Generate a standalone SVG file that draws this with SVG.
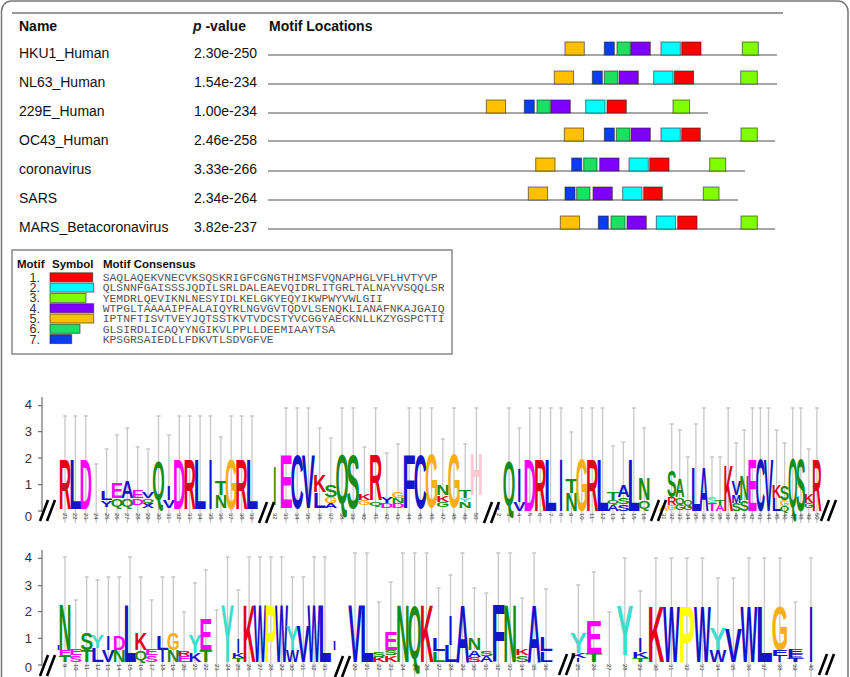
<svg xmlns="http://www.w3.org/2000/svg" width="850" height="677" viewBox="0 0 850 677">
<style>
.t{font-family:"Liberation Sans",Arial,sans-serif;font-size:14px;fill:#111}
.hb{font-weight:bold}
.lg{font-family:"Liberation Sans",Arial,sans-serif;font-size:11.5px;font-weight:bold;fill:#111}
.num{font-family:"Liberation Sans",Arial,sans-serif;font-size:12.5px;fill:#333;text-anchor:end}
.mono{font-family:"Liberation Mono","Courier New",monospace;font-size:11.4px;fill:#555}
.ax{font-family:"Liberation Sans",Arial,sans-serif;font-size:13px;fill:#333;text-anchor:end}
.k text{font-family:"Liberation Sans",Arial,sans-serif;font-size:10px;font-weight:bold}
.cl text{font-family:"Liberation Sans",Arial,sans-serif;font-size:6px;fill:#333}
.r{fill:#e2001a}.b{fill:#1414c8}.m{fill:#ff00ff}.g{fill:#168c16}.o{fill:#f9ae14}.c{fill:#3fdccc}.y{fill:#ffff00}.p{fill:#fcc8d2}
.eb{stroke:#c8c8c8;stroke-width:1.3;fill:none}
.trk{stroke:#888;stroke-width:1.5}
.bx{stroke:#222;stroke-opacity:.6;stroke-width:1}
.c1{fill:#ff0000}.c2{fill:#00ffff}.c3{fill:#80ff00}.c4{fill:#8000ff}.c5{fill:#ffc000}.c6{fill:#1ee060}.c7{fill:#0a3cf0}
.axl{stroke:#555;stroke-width:1;fill:none}
</style>
<defs>
<g id="brk"><path d="M0 21L8 0M7 21L15 0" stroke="#000" stroke-width="2.6" fill="none"/></g>
</defs>
<rect x="1.5" y="1" width="846.5" height="700" rx="10" fill="#fff" stroke="#777" stroke-width="1.5"/>
<line x1="12" y1="13" x2="783" y2="13" stroke="#999" stroke-width="2"/>

<g id="table-header">
<text class="t hb" x="19" y="31">Name</text>
<text class="t hb" x="193" y="31"><tspan font-style="italic">p</tspan> -value</text>
<text class="t hb" x="269" y="31">Motif Locations</text>
</g>

<g id="row-hku1">
<text class="t" x="19" y="58">HKU1_Human</text><text class="t" x="194" y="58">2.30e-250</text>
<line class="trk" x1="268" y1="55" x2="777" y2="55"/>
<rect class="bx c5" x="565" y="42" width="19.3" height="13"/><rect class="bx c7" x="604.3" y="42" width="10" height="13"/><rect class="bx c6" x="617" y="42" width="13.3" height="13"/><rect class="bx c4" x="631" y="42" width="19.3" height="13"/><rect class="bx c2" x="661" y="42" width="19.3" height="13"/><rect class="bx c1" x="681.7" y="42" width="19.3" height="13"/><rect class="bx c3" x="742.3" y="42" width="16" height="13"/>
</g>
<g id="row-nl63">
<text class="t" x="19" y="87">NL63_Human</text><text class="t" x="194" y="87">1.54e-234</text>
<line class="trk" x1="268" y1="84" x2="777" y2="84"/>
<rect class="bx c5" x="554.3" y="71" width="19.3" height="13"/><rect class="bx c7" x="592.3" y="71" width="10" height="13"/><rect class="bx c6" x="604.3" y="71" width="13.3" height="13"/><rect class="bx c4" x="619" y="71" width="19.3" height="13"/><rect class="bx c2" x="653.7" y="71" width="19.3" height="13"/><rect class="bx c1" x="674.3" y="71" width="19.3" height="13"/><rect class="bx c3" x="740.7" y="71" width="16.6" height="13"/>
</g>
<g id="row-229e">
<text class="t" x="19" y="116">229E_Human</text><text class="t" x="194" y="116">1.00e-234</text>
<line class="trk" x1="268" y1="113" x2="708" y2="113"/>
<rect class="bx c5" x="486.3" y="100" width="19.3" height="13"/><rect class="bx c7" x="524.3" y="100" width="10" height="13"/><rect class="bx c6" x="537" y="100" width="13.3" height="13"/><rect class="bx c4" x="551" y="100" width="19.3" height="13"/><rect class="bx c2" x="585.7" y="100" width="19.3" height="13"/><rect class="bx c1" x="607" y="100" width="19.3" height="13"/><rect class="bx c3" x="673" y="100" width="16.6" height="13"/>
</g>
<g id="row-oc43">
<text class="t" x="19" y="145">OC43_Human</text><text class="t" x="194" y="145">2.46e-258</text>
<line class="trk" x1="268" y1="141" x2="775" y2="141"/>
<rect class="bx c5" x="564.3" y="128" width="19.3" height="13"/><rect class="bx c7" x="604.3" y="128" width="10" height="13"/><rect class="bx c6" x="616.3" y="128" width="13.3" height="13"/><rect class="bx c4" x="631" y="128" width="19.3" height="13"/><rect class="bx c2" x="661" y="128" width="19.3" height="13"/><rect class="bx c1" x="681.7" y="128" width="18.6" height="13"/><rect class="bx c3" x="741" y="128" width="16.3" height="13"/>
</g>
<g id="row-coronavirus">
<text class="t" x="19" y="174">coronavirus</text><text class="t" x="194" y="174">3.33e-266</text>
<line class="trk" x1="268" y1="171" x2="745" y2="171"/>
<rect class="bx c5" x="535.7" y="158" width="19.3" height="13"/><rect class="bx c7" x="571.7" y="158" width="10" height="13"/><rect class="bx c6" x="583.7" y="158" width="13.3" height="13"/><rect class="bx c4" x="599.7" y="158" width="19.3" height="13"/><rect class="bx c2" x="629" y="158" width="19.3" height="13"/><rect class="bx c1" x="649.7" y="158" width="19.3" height="13"/><rect class="bx c3" x="709.7" y="158" width="16" height="13"/>
</g>
<g id="row-sars">
<text class="t" x="19" y="203">SARS</text><text class="t" x="194" y="203">2.34e-264</text>
<line class="trk" x1="268" y1="200" x2="738" y2="200"/>
<rect class="bx c5" x="528.3" y="187" width="19.3" height="13"/><rect class="bx c7" x="565" y="187" width="10" height="13"/><rect class="bx c6" x="576.7" y="187" width="13.3" height="13"/><rect class="bx c4" x="593" y="187" width="19.3" height="13"/><rect class="bx c2" x="622.7" y="187" width="19.3" height="13"/><rect class="bx c1" x="643.7" y="187" width="18.6" height="13"/><rect class="bx c3" x="703.3" y="187" width="15.7" height="13"/>
</g>
<g id="row-mars">
<text class="t" x="19" y="232">MARS_Betacoronavirus</text><text class="t" x="194" y="232">3.82e-237</text>
<line class="trk" x1="268" y1="229" x2="775" y2="229"/>
<rect class="bx c5" x="560.3" y="216" width="19.3" height="13"/><rect class="bx c7" x="598.3" y="216" width="10" height="13"/><rect class="bx c6" x="611" y="216" width="14" height="13"/><rect class="bx c4" x="627" y="216" width="19.3" height="13"/><rect class="bx c2" x="656.3" y="216" width="19.3" height="13"/><rect class="bx c1" x="677.7" y="216" width="19.3" height="13"/><rect class="bx c3" x="741" y="216" width="16.3" height="13"/>
</g>

<g id="legend">
<rect x="12" y="250" width="440" height="104" fill="#fff" stroke="#888" stroke-width="1.5"/>
<text class="lg" x="17" y="267.5">Motif</text><text class="lg" x="52" y="267.5">Symbol</text><text class="lg" x="103" y="267.5">Motif Consensus</text>
<text class="num" x="40" y="281.8">1.</text><text class="num" x="40" y="292.1">2.</text><text class="num" x="40" y="302.4">3.</text><text class="num" x="40" y="312.7">4.</text><text class="num" x="40" y="323">5.</text><text class="num" x="40" y="333.3">6.</text><text class="num" x="40" y="343.6">7.</text>
<rect class="bx c1" x="50" y="272.8" width="42.7" height="9"/>
<rect class="bx c2" x="50" y="283.1" width="43.7" height="9"/>
<rect class="bx c3" x="50" y="293.4" width="36" height="9"/>
<rect class="bx c4" x="50" y="303.7" width="43.7" height="9"/>
<rect class="bx c5" x="50" y="314" width="43.7" height="9"/>
<rect class="bx c6" x="50" y="324.3" width="30" height="9"/>
<rect class="bx c7" x="50" y="334.6" width="21.7" height="9"/>
<text class="mono" x="102.7" y="281">SAQLAQEKVNECVKSQSKRIGFCGNGTHIMSFVQNAPHGLVFLHVTYVP</text>
<text class="mono" x="102.7" y="291.3">QLSNNFGAISSSJQDILSRLDALEAEVQIDRLITGRLTALNAYVSQQLSR</text>
<text class="mono" x="102.7" y="301.6">YEMDRLQEVIKNLNESYIDLKELGKYEQYIKWPWYVWLGII</text>
<text class="mono" x="102.7" y="311.9">WTPGLTAAAAIPFALAIQYRLNGVGVTQDVLSENQKLIANAFNKAJGAIQ</text>
<text class="mono" x="102.7" y="322.2">IPTNFTISVTVEYJQTSSTKVTVDCSTYVCGGYAECKNLLKZYGSPCTTI</text>
<text class="mono" x="102.7" y="332.5">GLSIRDLICAQYYNGIKVLPPLLDEEMIAAYTSA</text>
<text class="mono" x="102.7" y="342.8">KPSGRSAIEDLLFDKVTLSDVGFVE</text>
</g>

<g id="axis-a">
<path class="axl" d="M42 397V512M38 405.7h4M38 431.7h4M38 458h4M38 484.7h4M38 511h4"/>
<text class="ax" x="32" y="409">4</text><text class="ax" x="32" y="436">3</text><text class="ax" x="32" y="462.5">2</text><text class="ax" x="32" y="489">1</text><text class="ax" x="32" y="521">0</text>
</g>
<g id="axis-b">
<path class="axl" d="M42 550V666M38 558.3h4M38 585.7h4M38 611.7h4M38 638.3h4M38 665h4"/>
<text class="ax" x="32" y="562">4</text><text class="ax" x="32" y="590">3</text><text class="ax" x="32" y="616">2</text><text class="ax" x="32" y="643">1</text><text class="ax" x="32" y="672">0</text>
</g>

<g id="errorbars">
<path class="eb" d="M65 416V523M75.4 416V523M85.8 416V523M96.2 464V523M106.6 449V523M117 435V523M127.3 428V523M137.7 447V523M148.1 449V523M158.5 416V523M168.9 435V523M179.3 416V523M189.7 416V523M200.1 416V523M210.5 416V523M220.9 437V523M231.2 416V523M241.6 416V523M252 416V523
M63 416h4M73.4 416h4M83.8 416h4M94.2 464h4M104.6 449h4M115 435h4M125.3 428h4M135.7 447h4M146.1 449h4M156.5 416h4M166.9 435h4M177.3 416h4M187.7 416h4M198.1 416h4M208.5 416h4M218.9 437h4M229.2 416h4M239.6 416h4M250 416h4"/>
<path class="eb" d="M286 408V523M297.2 408V523M308.4 408V523M319.6 428V523M330.8 438V523M342 408V523M353.2 408V523M364.4 447V523M375.6 408V523M386.8 453V523M398 444V523M409.2 408V523M420.4 408V523M431.6 408V523M442.8 439V523M454 408V523M465.2 444V523M476.4 408V523
M284 408h4M295.2 408h4M306.4 408h4M317.6 428h4M328.8 438h4M340 408h4M351.2 408h4M362.4 447h4M373.6 408h4M384.8 453h4M396 444h4M407.2 408h4M418.4 408h4M429.6 408h4M440.8 439h4M452 408h4M463.2 444h4M474.4 408h4"/>
<path class="eb" d="M509 408V523M519.4 428V523M529.8 408V523M540.2 408V523M550.6 408V523M561 408V523M571.4 432V523M581.8 408V523M592.2 408V523M602.6 408V523M613 446V523M623.4 442V523M633.8 408V523M644.2 428V523
M507 408h4M517.4 428h4M527.8 408h4M538.2 408h4M548.6 408h4M559 408h4M569.4 432h4M579.8 408h4M590.2 408h4M600.6 408h4M611 446h4M621.4 442h4M631.8 408h4M642.2 428h4"/>
<path class="eb" d="M671.7 424V523M679.7 430V523M687.8 457V523M695.9 424V523M703.9 408V523M712 457V523M720.1 457V523M728.2 408V523M736.2 443V523M744.3 430V523M752.4 408V523M760.4 408V523M768.5 408V523M776.6 430V523M784.6 443V523M792.7 408V523M800.8 408V523M808.8 449V523M816.9 408V523
M669.7 424h4M677.7 430h4M685.8 457h4M693.9 424h4M701.9 408h4M710 457h4M718.1 457h4M726.2 408h4M734.2 443h4M742.3 430h4M750.4 408h4M758.4 408h4M766.5 408h4M774.6 430h4M782.6 443h4M790.7 408h4M798.8 408h4M806.8 449h4M814.9 408h4"/>
<path class="eb" d="M65 557V677M75.8 600V677M86.7 577V677M97.5 580V677M108.3 577V677M119.2 577V677M130 557V677M140.8 577V677M151.6 600V677M162.5 577V677M173.3 577V677M184.1 612V677M195 583V677M205.8 570V677M216.6 610V677M227.5 557V677M238.3 590V677M249.1 557V677M260 557V677M270.8 557V677M281.6 557V677M292.4 577V677M303.3 577V677M314.1 557V677M324.9 557V677
M63 557h4M73.8 600h4M84.7 577h4M95.5 580h4M106.3 577h4M117.2 577h4M128 557h4M138.8 577h4M149.6 600h4M160.5 577h4M171.3 577h4M182.1 612h4M193 583h4M203.8 570h4M214.6 610h4M225.5 557h4M236.3 590h4M247.1 557h4M258 557h4M268.8 557h4M279.6 557h4M290.4 577h4M301.3 577h4M312.1 557h4M322.9 557h4"/>
<path class="eb" d="M355 553V677M366.9 553V677M378.9 602V677M390.8 582V677M402.8 553V677M414.7 553V677M426.6 553V677M438.6 588V677M450.5 575V677M462.5 553V677M474.4 588V677M486.3 593V677M498.3 553V677M510.2 553V677M522.2 598V677M534.1 553V677M546 589V677
M353 553h4M364.9 553h4M376.9 602h4M388.8 582h4M400.8 553h4M412.7 553h4M424.6 553h4M436.6 588h4M448.5 575h4M460.5 553h4M472.4 588h4M484.3 593h4M496.3 553h4M508.2 553h4M520.2 598h4M532.1 553h4M544 589h4"/>
<path class="eb" d="M578.3 585V677M593.8 572V677M609.3 612V677M624.8 558V677M640.3 591V677M655.9 558V677M671.4 558V677M686.9 558V677M702.4 558V677M717.9 578V677M733.4 578V677M748.9 558V677M764.4 558V677M779.9 558V677M795.4 602V677M811 558V677
M576.3 585h4M591.8 572h4M607.3 612h4M622.8 558h4M638.3 591h4M653.9 558h4M669.4 558h4M684.9 558h4M700.4 558h4M715.9 578h4M731.4 578h4M746.9 558h4M762.4 558h4M777.9 558h4M793.4 602h4M809 558h4"/>
</g>

<g id="logo-a1" class="k" transform="translate(-1.04 0)">
<text class="r" transform="translate(59.8 509)scale(1 6.98)" textLength="12.5" lengthAdjust="spacingAndGlyphs">R</text>
<text class="b" transform="translate(70.2 509)scale(1 6.98)" textLength="12.5" lengthAdjust="spacingAndGlyphs">L</text>
<text class="m" transform="translate(80.6 509)scale(1 6.98)" textLength="12.5" lengthAdjust="spacingAndGlyphs">D</text>
<text class="b" transform="translate(101.4 500)scale(1 1.26)" textLength="12.5" lengthAdjust="spacingAndGlyphs">L</text>
<text class="b" transform="translate(101.4 507)scale(1 0.98)" textLength="12.5" lengthAdjust="spacingAndGlyphs">Y</text>
<text class="m" transform="translate(111.8 498)scale(1 2.23)" textLength="12.5" lengthAdjust="spacingAndGlyphs">E</text>
<text class="g" transform="translate(111.8 507)scale(1 1.1)" textLength="12.5" lengthAdjust="spacingAndGlyphs">Q</text>
<text class="b" transform="translate(122.1 498)scale(1 2.37)" textLength="12.5" lengthAdjust="spacingAndGlyphs">A</text>
<text class="g" transform="translate(122.1 507)scale(1 1.1)" textLength="12.5" lengthAdjust="spacingAndGlyphs">Q</text>
<text class="m" transform="translate(132.5 498)scale(1 1.12)" textLength="12.5" lengthAdjust="spacingAndGlyphs">E</text>
<text class="m" transform="translate(132.5 505)scale(1 0.98)" textLength="12.5" lengthAdjust="spacingAndGlyphs">D</text>
<text class="b" transform="translate(142.9 498)scale(1 0.98)" textLength="12.5" lengthAdjust="spacingAndGlyphs">V</text>
<text class="g" transform="translate(142.9 503)scale(1 0.6)" textLength="12.5" lengthAdjust="spacingAndGlyphs">Q</text>
<text class="b" transform="translate(142.9 508)scale(1 0.7)" textLength="12.5" lengthAdjust="spacingAndGlyphs">X</text>
<text class="g" transform="translate(153.3 500)scale(1 5.5)" textLength="12.5" lengthAdjust="spacingAndGlyphs">Q</text>
<text class="b" transform="translate(167.9 500)scale(1 2.1)" textLength="4" lengthAdjust="spacingAndGlyphs">I</text>
<text class="b" transform="translate(163.7 508)scale(1 1.12)" textLength="12.5" lengthAdjust="spacingAndGlyphs">V</text>
<text class="m" transform="translate(174.1 509)scale(1 6.98)" textLength="12.5" lengthAdjust="spacingAndGlyphs">D</text>
<text class="r" transform="translate(184.5 509)scale(1 6.98)" textLength="12.5" lengthAdjust="spacingAndGlyphs">R</text>
<text class="b" transform="translate(194.9 509)scale(1 6.98)" textLength="12.5" lengthAdjust="spacingAndGlyphs">L</text>
<text class="b" transform="translate(209.5 509)scale(1 6.98)" textLength="4" lengthAdjust="spacingAndGlyphs">I</text>
<text class="g" transform="translate(215.7 495)scale(1 2.1)" textLength="12.5" lengthAdjust="spacingAndGlyphs">T</text>
<text class="g" transform="translate(215.7 508)scale(1 1.82)" textLength="12.5" lengthAdjust="spacingAndGlyphs">N</text>
<text class="o" transform="translate(226 509)scale(1 6.98)" textLength="12.5" lengthAdjust="spacingAndGlyphs">G</text>
<text class="r" transform="translate(236.4 509)scale(1 6.98)" textLength="12.5" lengthAdjust="spacingAndGlyphs">R</text>
<text class="b" transform="translate(246.8 509)scale(1 6.98)" textLength="12.5" lengthAdjust="spacingAndGlyphs">L</text>
</g>

<g id="logo-a2" class="k" transform="translate(-1.1 0)">
<text class="g" transform="translate(274.3 505)scale(1 5.6)" textLength="3" lengthAdjust="spacingAndGlyphs">I</text>
<text class="m" transform="translate(280.5 508)scale(1 7.68)" textLength="13.2" lengthAdjust="spacingAndGlyphs">E</text>
<text class="b" transform="translate(291.7 508)scale(1 7.68)" textLength="13.2" lengthAdjust="spacingAndGlyphs">C</text>
<text class="b" transform="translate(302.9 508)scale(1 7.68)" textLength="13.2" lengthAdjust="spacingAndGlyphs">V</text>
<text class="r" transform="translate(314.1 492)scale(1 2.37)" textLength="13.2" lengthAdjust="spacingAndGlyphs">K</text>
<text class="b" transform="translate(314.1 508)scale(1 2.23)" textLength="13.2" lengthAdjust="spacingAndGlyphs">L</text>
<text class="g" transform="translate(325.3 497)scale(1 1.68)" textLength="13.2" lengthAdjust="spacingAndGlyphs">S</text>
<text class="o" transform="translate(325.3 503)scale(1 0.84)" textLength="13.2" lengthAdjust="spacingAndGlyphs">G</text>
<text class="b" transform="translate(325.3 508)scale(1 0.7)" textLength="13.2" lengthAdjust="spacingAndGlyphs">A</text>
<text class="g" transform="translate(336.5 504)scale(1 7.1)" textLength="13.2" lengthAdjust="spacingAndGlyphs">Q</text>
<text class="g" transform="translate(347.7 508)scale(1 7.68)" textLength="13.2" lengthAdjust="spacingAndGlyphs">S</text>
<text class="r" transform="translate(358.9 500)scale(1 0.98)" textLength="13.2" lengthAdjust="spacingAndGlyphs">K</text>
<text class="o" transform="translate(358.9 505)scale(1 0.7)" textLength="13.2" lengthAdjust="spacingAndGlyphs">G</text>
<text class="r" transform="translate(370.1 500)scale(1 6.56)" textLength="13.2" lengthAdjust="spacingAndGlyphs">R</text>
<text class="g" transform="translate(370.1 506)scale(1 0.6)" textLength="13.2" lengthAdjust="spacingAndGlyphs">Q</text>
<text class="b" transform="translate(381.3 503)scale(1 0.84)" textLength="13.2" lengthAdjust="spacingAndGlyphs">Y</text>
<text class="m" transform="translate(381.3 508)scale(1 0.7)" textLength="13.2" lengthAdjust="spacingAndGlyphs">D</text>
<text class="o" transform="translate(392.5 498)scale(1 0.98)" textLength="13.2" lengthAdjust="spacingAndGlyphs">G</text>
<text class="g" transform="translate(392.5 503)scale(1 0.7)" textLength="13.2" lengthAdjust="spacingAndGlyphs">N</text>
<text class="m" transform="translate(392.5 508)scale(1 0.7)" textLength="13.2" lengthAdjust="spacingAndGlyphs">D</text>
<text class="b" transform="translate(403.7 508)scale(1 7.68)" textLength="13.2" lengthAdjust="spacingAndGlyphs">F</text>
<text class="b" transform="translate(414.9 508)scale(1 7.68)" textLength="13.2" lengthAdjust="spacingAndGlyphs">C</text>
<text class="o" transform="translate(426.1 507)scale(1 7.54)" textLength="13.2" lengthAdjust="spacingAndGlyphs">G</text>
<text class="g" transform="translate(437.3 495)scale(1 1.4)" textLength="13.2" lengthAdjust="spacingAndGlyphs">N</text>
<text class="r" transform="translate(437.3 502)scale(1 0.98)" textLength="13.2" lengthAdjust="spacingAndGlyphs">K</text>
<text class="g" transform="translate(437.3 507)scale(1 0.7)" textLength="13.2" lengthAdjust="spacingAndGlyphs">G</text>
<text class="o" transform="translate(448.5 507)scale(1 7.54)" textLength="13.2" lengthAdjust="spacingAndGlyphs">G</text>
<text class="g" transform="translate(459.7 498)scale(1 1.12)" textLength="13.2" lengthAdjust="spacingAndGlyphs">T</text>
<text class="c" transform="translate(459.7 502)scale(1 0.56)" textLength="13.2" lengthAdjust="spacingAndGlyphs">Y</text>
<text class="g" transform="translate(459.7 508)scale(1 0.84)" textLength="13.2" lengthAdjust="spacingAndGlyphs">N</text>
<text class="p" transform="translate(470.9 495)scale(1 5.87)" textLength="13.2" lengthAdjust="spacingAndGlyphs">H</text>
</g>

<g id="logo-a3" class="k" transform="translate(-1.04 0)">
<text class="b" transform="translate(498.6 510)scale(1 0.84)" textLength="2" lengthAdjust="spacingAndGlyphs">I</text>
<text class="g" transform="translate(503.8 505)scale(1 6.3)" textLength="12.5" lengthAdjust="spacingAndGlyphs">Q</text>
<text class="b" transform="translate(518.4 502)scale(1 4.75)" textLength="4" lengthAdjust="spacingAndGlyphs">I</text>
<text class="b" transform="translate(514.2 511)scale(1 1.26)" textLength="12.5" lengthAdjust="spacingAndGlyphs">V</text>
<text class="m" transform="translate(524.6 511)scale(1 7.4)" textLength="12.5" lengthAdjust="spacingAndGlyphs">D</text>
<text class="r" transform="translate(535 511)scale(1 7.4)" textLength="12.5" lengthAdjust="spacingAndGlyphs">R</text>
<text class="b" transform="translate(545.4 511)scale(1 7.4)" textLength="12.5" lengthAdjust="spacingAndGlyphs">L</text>
<text class="b" transform="translate(560 511)scale(1 7.4)" textLength="4" lengthAdjust="spacingAndGlyphs">I</text>
<text class="g" transform="translate(566.2 493)scale(1 2.1)" textLength="12.5" lengthAdjust="spacingAndGlyphs">T</text>
<text class="g" transform="translate(566.2 511)scale(1 2.51)" textLength="12.5" lengthAdjust="spacingAndGlyphs">N</text>
<text class="o" transform="translate(576.6 511)scale(1 7.4)" textLength="12.5" lengthAdjust="spacingAndGlyphs">G</text>
<text class="r" transform="translate(587 511)scale(1 7.4)" textLength="12.5" lengthAdjust="spacingAndGlyphs">R</text>
<text class="b" transform="translate(597.4 511)scale(1 7.4)" textLength="12.5" lengthAdjust="spacingAndGlyphs">L</text>
<text class="g" transform="translate(607.8 500)scale(1 1.12)" textLength="12.5" lengthAdjust="spacingAndGlyphs">T</text>
<text class="g" transform="translate(607.8 504)scale(1 0.5)" textLength="12.5" lengthAdjust="spacingAndGlyphs">Q</text>
<text class="b" transform="translate(607.8 511)scale(1 0.98)" textLength="12.5" lengthAdjust="spacingAndGlyphs">A</text>
<text class="b" transform="translate(618.2 497)scale(1 1.68)" textLength="12.5" lengthAdjust="spacingAndGlyphs">A</text>
<text class="g" transform="translate(618.2 504)scale(1 0.98)" textLength="12.5" lengthAdjust="spacingAndGlyphs">S</text>
<text class="b" transform="translate(618.2 511)scale(1 0.98)" textLength="12.5" lengthAdjust="spacingAndGlyphs">S</text>
<text class="b" transform="translate(628.6 511)scale(1 7.4)" textLength="12.5" lengthAdjust="spacingAndGlyphs">L</text>
<text class="g" transform="translate(639 500)scale(1 3.07)" textLength="12.5" lengthAdjust="spacingAndGlyphs">N</text>
<text class="g" transform="translate(639 509)scale(1 1.15)" textLength="12.5" lengthAdjust="spacingAndGlyphs">Q</text>
</g>

<g id="logo-a4" class="k" transform="translate(-0.8 0)">
<text class="o" transform="translate(659.6 511)scale(1 0.84)" textLength="9.6" lengthAdjust="spacingAndGlyphs">A</text>
<text class="g" transform="translate(667.7 497)scale(1 3.63)" textLength="9.6" lengthAdjust="spacingAndGlyphs">S</text>
<text class="r" transform="translate(667.7 505)scale(1 1.12)" textLength="9.6" lengthAdjust="spacingAndGlyphs">R</text>
<text class="o" transform="translate(667.7 510)scale(1 0.7)" textLength="9.6" lengthAdjust="spacingAndGlyphs">G</text>
<text class="g" transform="translate(675.7 497)scale(1 2.65)" textLength="9.6" lengthAdjust="spacingAndGlyphs">A</text>
<text class="g" transform="translate(675.7 504)scale(1 0.9)" textLength="9.6" lengthAdjust="spacingAndGlyphs">Q</text>
<text class="g" transform="translate(675.7 510)scale(1 0.84)" textLength="9.6" lengthAdjust="spacingAndGlyphs">G</text>
<text class="g" transform="translate(683.8 505)scale(1 0.7)" textLength="9.6" lengthAdjust="spacingAndGlyphs">Q</text>
<text class="g" transform="translate(683.8 510)scale(1 0.7)" textLength="9.6" lengthAdjust="spacingAndGlyphs">G</text>
<text class="b" transform="translate(691.9 511)scale(1 6.28)" textLength="9.6" lengthAdjust="spacingAndGlyphs">L</text>
<text class="b" transform="translate(699.9 511)scale(1 6.28)" textLength="9.6" lengthAdjust="spacingAndGlyphs">A</text>
<text class="c" transform="translate(708 503)scale(1 0.84)" textLength="9.6" lengthAdjust="spacingAndGlyphs">S</text>
<text class="m" transform="translate(708 511)scale(1 1.12)" textLength="9.6" lengthAdjust="spacingAndGlyphs">T</text>
<text class="g" transform="translate(716.1 505)scale(1 0.7)" textLength="9.6" lengthAdjust="spacingAndGlyphs">T</text>
<text class="m" transform="translate(716.1 511)scale(1 0.84)" textLength="9.6" lengthAdjust="spacingAndGlyphs">A</text>
<text class="r" transform="translate(724.2 511)scale(1 6.42)" textLength="9.6" lengthAdjust="spacingAndGlyphs">K</text>
<text class="b" transform="translate(732.2 495)scale(1 1.96)" textLength="9.6" lengthAdjust="spacingAndGlyphs">V</text>
<text class="b" transform="translate(732.2 503)scale(1 1.12)" textLength="9.6" lengthAdjust="spacingAndGlyphs">M</text>
<text class="g" transform="translate(732.2 511)scale(1 1.12)" textLength="9.6" lengthAdjust="spacingAndGlyphs">S</text>
<text class="g" transform="translate(740.3 500)scale(1 3.5)" textLength="9.6" lengthAdjust="spacingAndGlyphs">N</text>
<text class="g" transform="translate(740.3 511)scale(1 1.54)" textLength="9.6" lengthAdjust="spacingAndGlyphs">S</text>
<text class="m" transform="translate(748.4 511)scale(1 7.4)" textLength="9.6" lengthAdjust="spacingAndGlyphs">E</text>
<text class="b" transform="translate(756.4 511)scale(1 7.4)" textLength="9.6" lengthAdjust="spacingAndGlyphs">C</text>
<text class="b" transform="translate(764.5 511)scale(1 7.4)" textLength="9.6" lengthAdjust="spacingAndGlyphs">V</text>
<text class="r" transform="translate(772.6 498)scale(1 1.82)" textLength="9.6" lengthAdjust="spacingAndGlyphs">K</text>
<text class="b" transform="translate(772.6 511)scale(1 1.82)" textLength="9.6" lengthAdjust="spacingAndGlyphs">L</text>
<text class="g" transform="translate(780.6 500)scale(1 2.1)" textLength="9.6" lengthAdjust="spacingAndGlyphs">S</text>
<text class="o" transform="translate(780.6 506)scale(1 0.84)" textLength="9.6" lengthAdjust="spacingAndGlyphs">G</text>
<text class="g" transform="translate(780.6 511)scale(1 0.7)" textLength="9.6" lengthAdjust="spacingAndGlyphs">Q</text>
<text class="g" transform="translate(788.7 508)scale(1 7)" textLength="9.6" lengthAdjust="spacingAndGlyphs">Q</text>
<text class="g" transform="translate(796.8 511)scale(1 7.4)" textLength="9.6" lengthAdjust="spacingAndGlyphs">S</text>
<text class="r" transform="translate(804.8 503)scale(1 1.26)" textLength="9.6" lengthAdjust="spacingAndGlyphs">K</text>
<text class="g" transform="translate(804.8 508)scale(1 0.7)" textLength="9.6" lengthAdjust="spacingAndGlyphs">G</text>
<text class="r" transform="translate(812.9 511)scale(1 7.4)" textLength="9.6" lengthAdjust="spacingAndGlyphs">R</text>
</g>

<g id="logo-b1" class="k" transform="translate(-1.08 0)">
<text class="b" transform="translate(58 650)scale(1 0.7)" textLength="3" lengthAdjust="spacingAndGlyphs">I</text>
<text class="g" transform="translate(59.6 650)scale(1 6.56)" textLength="13" lengthAdjust="spacingAndGlyphs">N</text>
<text class="m" transform="translate(59.6 656)scale(1 0.84)" textLength="13" lengthAdjust="spacingAndGlyphs">E</text>
<text class="g" transform="translate(59.6 662)scale(1 0.84)" textLength="13" lengthAdjust="spacingAndGlyphs">T</text>
<text class="m" transform="translate(70.4 655)scale(1 0.98)" textLength="13" lengthAdjust="spacingAndGlyphs">E</text>
<text class="m" transform="translate(70.4 662)scale(1 0.98)" textLength="13" lengthAdjust="spacingAndGlyphs">S</text>
<text class="g" transform="translate(81.3 650)scale(1 2.37)" textLength="13" lengthAdjust="spacingAndGlyphs">S</text>
<text class="g" transform="translate(81.3 662)scale(1 1.68)" textLength="13" lengthAdjust="spacingAndGlyphs">T</text>
<text class="c" transform="translate(92.1 648)scale(1 1.82)" textLength="13" lengthAdjust="spacingAndGlyphs">Y</text>
<text class="b" transform="translate(92.1 662)scale(1 1.96)" textLength="13" lengthAdjust="spacingAndGlyphs">L</text>
<text class="b" transform="translate(107.3 650)scale(1 2.1)" textLength="4" lengthAdjust="spacingAndGlyphs">I</text>
<text class="b" transform="translate(102.9 662)scale(1 1.68)" textLength="13" lengthAdjust="spacingAndGlyphs">V</text>
<text class="m" transform="translate(113.8 650)scale(1 2.1)" textLength="13" lengthAdjust="spacingAndGlyphs">D</text>
<text class="g" transform="translate(113.8 662)scale(1 1.68)" textLength="13" lengthAdjust="spacingAndGlyphs">N</text>
<text class="b" transform="translate(124.6 662)scale(1 8.24)" textLength="13" lengthAdjust="spacingAndGlyphs">L</text>
<text class="r" transform="translate(135.4 650)scale(1 2.37)" textLength="13" lengthAdjust="spacingAndGlyphs">K</text>
<text class="g" transform="translate(135.4 660)scale(1 1.3)" textLength="13" lengthAdjust="spacingAndGlyphs">Q</text>
<text class="m" transform="translate(146.2 655)scale(1 0.98)" textLength="13" lengthAdjust="spacingAndGlyphs">E</text>
<text class="m" transform="translate(146.2 662)scale(1 0.98)" textLength="13" lengthAdjust="spacingAndGlyphs">S</text>
<text class="b" transform="translate(157.1 650)scale(1 2.1)" textLength="13" lengthAdjust="spacingAndGlyphs">L</text>
<text class="b" transform="translate(161.5 662)scale(1 1.68)" textLength="4" lengthAdjust="spacingAndGlyphs">I</text>
<text class="o" transform="translate(167.9 650)scale(1 2.37)" textLength="13" lengthAdjust="spacingAndGlyphs">G</text>
<text class="g" transform="translate(167.9 662)scale(1 1.68)" textLength="13" lengthAdjust="spacingAndGlyphs">N</text>
<text class="r" transform="translate(178.7 656)scale(1 0.7)" textLength="13" lengthAdjust="spacingAndGlyphs">R</text>
<text class="m" transform="translate(178.7 662)scale(1 0.84)" textLength="13" lengthAdjust="spacingAndGlyphs">E</text>
<text class="c" transform="translate(189.6 653)scale(1 2.51)" textLength="13" lengthAdjust="spacingAndGlyphs">Y</text>
<text class="b" transform="translate(189.6 662)scale(1 1.26)" textLength="13" lengthAdjust="spacingAndGlyphs">K</text>
<text class="m" transform="translate(200.4 650)scale(1 4.47)" textLength="13" lengthAdjust="spacingAndGlyphs">E</text>
<text class="g" transform="translate(200.4 662)scale(1 1.68)" textLength="13" lengthAdjust="spacingAndGlyphs">T</text>
<text class="c" transform="translate(222.1 662)scale(1 8.24)" textLength="13" lengthAdjust="spacingAndGlyphs">Y</text>
<text class="b" transform="translate(237.8 653)scale(1 2.1)" textLength="3" lengthAdjust="spacingAndGlyphs">I</text>
<text class="b" transform="translate(232.9 658)scale(1 0.7)" textLength="13" lengthAdjust="spacingAndGlyphs">K</text>
<text class="g" transform="translate(232.9 662)scale(1 0.56)" textLength="13" lengthAdjust="spacingAndGlyphs">T</text>
<text class="r" transform="translate(243.7 662)scale(1 8.24)" textLength="13" lengthAdjust="spacingAndGlyphs">K</text>
<text class="b" transform="translate(254.6 662)scale(1 8.24)" textLength="13" lengthAdjust="spacingAndGlyphs">W</text>
<text class="y" transform="translate(265.4 662)scale(1 8.24)" textLength="13" lengthAdjust="spacingAndGlyphs">P</text>
<text class="b" transform="translate(276.2 662)scale(1 8.24)" textLength="13" lengthAdjust="spacingAndGlyphs">W</text>
<text class="c" transform="translate(287 650)scale(1 3.5)" textLength="13" lengthAdjust="spacingAndGlyphs">Y</text>
<text class="b" transform="translate(287 662)scale(1 1.68)" textLength="13" lengthAdjust="spacingAndGlyphs">W</text>
<text class="b" transform="translate(297.9 662)scale(1 5.17)" textLength="13" lengthAdjust="spacingAndGlyphs">V</text>
<text class="b" transform="translate(308.7 662)scale(1 8.24)" textLength="13" lengthAdjust="spacingAndGlyphs">W</text>
<text class="b" transform="translate(319.5 662)scale(1 8.24)" textLength="13" lengthAdjust="spacingAndGlyphs">L</text>
<text class="b" transform="translate(334 650)scale(1 1.26)" textLength="3" lengthAdjust="spacingAndGlyphs">I</text>
</g>

<g id="logo-b2" class="k" transform="translate(-1.15 0)">
<text class="b" transform="translate(349.3 662)scale(1 8.24)" textLength="13.8" lengthAdjust="spacingAndGlyphs">V</text>
<text class="b" transform="translate(361.2 662)scale(1 8.24)" textLength="13.8" lengthAdjust="spacingAndGlyphs">L</text>
<text class="g" transform="translate(373.2 657)scale(1 0.7)" textLength="13.8" lengthAdjust="spacingAndGlyphs">S</text>
<text class="r" transform="translate(373.2 662)scale(1 0.7)" textLength="13.8" lengthAdjust="spacingAndGlyphs">K</text>
<text class="m" transform="translate(385.1 650)scale(1 2.51)" textLength="13.8" lengthAdjust="spacingAndGlyphs">E</text>
<text class="g" transform="translate(385.1 655)scale(1 0.7)" textLength="13.8" lengthAdjust="spacingAndGlyphs">S</text>
<text class="r" transform="translate(385.1 662)scale(1 0.98)" textLength="13.8" lengthAdjust="spacingAndGlyphs">K</text>
<text class="g" transform="translate(397.1 662)scale(1 8.24)" textLength="13.8" lengthAdjust="spacingAndGlyphs">N</text>
<text class="g" transform="translate(409 659)scale(1 7.6)" textLength="13.8" lengthAdjust="spacingAndGlyphs">Q</text>
<text class="r" transform="translate(420.9 662)scale(1 8.24)" textLength="13.8" lengthAdjust="spacingAndGlyphs">K</text>
<text class="b" transform="translate(432.9 651)scale(1 1.82)" textLength="13.8" lengthAdjust="spacingAndGlyphs">L</text>
<text class="g" transform="translate(432.9 662)scale(1 1.54)" textLength="13.8" lengthAdjust="spacingAndGlyphs">L</text>
<text class="b" transform="translate(449.6 645)scale(1 4.2)" textLength="4" lengthAdjust="spacingAndGlyphs">I</text>
<text class="b" transform="translate(444.8 662)scale(1 2.37)" textLength="13.8" lengthAdjust="spacingAndGlyphs">L</text>
<text class="b" transform="translate(456.8 662)scale(1 8.24)" textLength="13.8" lengthAdjust="spacingAndGlyphs">A</text>
<text class="g" transform="translate(468.7 650)scale(1 1.68)" textLength="13.8" lengthAdjust="spacingAndGlyphs">N</text>
<text class="b" transform="translate(468.7 657)scale(1 0.98)" textLength="13.8" lengthAdjust="spacingAndGlyphs">A</text>
<text class="r" transform="translate(468.7 662)scale(1 0.7)" textLength="13.8" lengthAdjust="spacingAndGlyphs">S</text>
<text class="g" transform="translate(480.6 656)scale(1 0.7)" textLength="13.8" lengthAdjust="spacingAndGlyphs">S</text>
<text class="b" transform="translate(480.6 662)scale(1 0.84)" textLength="13.8" lengthAdjust="spacingAndGlyphs">A</text>
<text class="b" transform="translate(492.6 662)scale(1 8.24)" textLength="13.8" lengthAdjust="spacingAndGlyphs">F</text>
<text class="g" transform="translate(504.5 662)scale(1 8.24)" textLength="13.8" lengthAdjust="spacingAndGlyphs">N</text>
<text class="r" transform="translate(516.5 655)scale(1 0.98)" textLength="13.8" lengthAdjust="spacingAndGlyphs">K</text>
<text class="g" transform="translate(516.5 662)scale(1 0.98)" textLength="13.8" lengthAdjust="spacingAndGlyphs">S</text>
<text class="b" transform="translate(528.4 662)scale(1 8.24)" textLength="13.8" lengthAdjust="spacingAndGlyphs">A</text>
<text class="b" transform="translate(540.3 651)scale(1 2.1)" textLength="13.8" lengthAdjust="spacingAndGlyphs">L</text>
<text class="b" transform="translate(540.3 662)scale(1 1.54)" textLength="13.8" lengthAdjust="spacingAndGlyphs">L</text>
</g>

<g id="logo-b3" class="k" transform="translate(-1.4 0)">
<text class="c" transform="translate(571.3 653)scale(1 2.93)" textLength="16.8" lengthAdjust="spacingAndGlyphs">Y</text>
<text class="b" transform="translate(571.3 658)scale(1 0.7)" textLength="16.8" lengthAdjust="spacingAndGlyphs">K</text>
<text class="b" transform="translate(577.3 662)scale(1 0.56)" textLength="4" lengthAdjust="spacingAndGlyphs">I</text>
<text class="m" transform="translate(586.8 653)scale(1 4.6)" textLength="16.8" lengthAdjust="spacingAndGlyphs">E</text>
<text class="g" transform="translate(586.8 662)scale(1 1.26)" textLength="16.8" lengthAdjust="spacingAndGlyphs">T</text>
<text class="c" transform="translate(617.8 655)scale(1 6.98)" textLength="16.8" lengthAdjust="spacingAndGlyphs">Y</text>
<text class="b" transform="translate(639.7 652)scale(1 1.96)" textLength="4" lengthAdjust="spacingAndGlyphs">I</text>
<text class="b" transform="translate(633.3 658)scale(1 0.84)" textLength="16.8" lengthAdjust="spacingAndGlyphs">K</text>
<text class="g" transform="translate(633.3 662)scale(1 0.56)" textLength="16.8" lengthAdjust="spacingAndGlyphs">T</text>
<text class="r" transform="translate(648.9 662)scale(1 7.96)" textLength="16.8" lengthAdjust="spacingAndGlyphs">K</text>
<text class="b" transform="translate(664.4 662)scale(1 7.96)" textLength="16.8" lengthAdjust="spacingAndGlyphs">W</text>
<text class="y" transform="translate(679.9 662)scale(1 7.96)" textLength="16.8" lengthAdjust="spacingAndGlyphs">P</text>
<text class="b" transform="translate(695.4 662)scale(1 7.96)" textLength="16.8" lengthAdjust="spacingAndGlyphs">W</text>
<text class="c" transform="translate(710.9 650)scale(1 3.2)" textLength="16.8" lengthAdjust="spacingAndGlyphs">Y</text>
<text class="b" transform="translate(710.9 662)scale(1 1.68)" textLength="16.8" lengthAdjust="spacingAndGlyphs">W</text>
<text class="b" transform="translate(726.4 662)scale(1 4.9)" textLength="16.8" lengthAdjust="spacingAndGlyphs">V</text>
<text class="b" transform="translate(741.9 662)scale(1 7.96)" textLength="16.8" lengthAdjust="spacingAndGlyphs">W</text>
<text class="b" transform="translate(757.4 662)scale(1 7.96)" textLength="16.8" lengthAdjust="spacingAndGlyphs">L</text>
<text class="o" transform="translate(772.9 650)scale(1 6.28)" textLength="16.8" lengthAdjust="spacingAndGlyphs">G</text>
<text class="b" transform="translate(772.9 656)scale(1 0.84)" textLength="16.8" lengthAdjust="spacingAndGlyphs">E</text>
<text class="b" transform="translate(778.9 662)scale(1 0.84)" textLength="4" lengthAdjust="spacingAndGlyphs">I</text>
<text class="b" transform="translate(788.4 654)scale(1 0.7)" textLength="16.8" lengthAdjust="spacingAndGlyphs">E</text>
<text class="b" transform="translate(788.4 658)scale(1 0.56)" textLength="16.8" lengthAdjust="spacingAndGlyphs">E</text>
<text class="b" transform="translate(788.4 662)scale(1 0.56)" textLength="16.8" lengthAdjust="spacingAndGlyphs">T</text>
<text class="b" transform="translate(810.4 662)scale(1 7.96)" textLength="4" lengthAdjust="spacingAndGlyphs">I</text>
</g>

<g id="breaks">
<use href="#brk" x="40" y="500"/><use href="#brk" x="259" y="502"/><use href="#brk" x="484" y="502"/><use href="#brk" x="651" y="500"/><use href="#brk" x="821" y="500"/>
<use href="#brk" x="40" y="655"/><use href="#brk" x="335" y="656"/><use href="#brk" x="559" y="654"/><use href="#brk" x="819" y="654"/>
</g>

<g id="labels-a" class="cl">
<text transform="translate(63 513)rotate(90)">21</text><text transform="translate(73.4 513)rotate(90)">22</text><text transform="translate(83.8 513)rotate(90)">23</text><text transform="translate(94.2 513)rotate(90)">24</text><text transform="translate(104.6 513)rotate(90)">25</text><text transform="translate(115 513)rotate(90)">26</text><text transform="translate(125.3 513)rotate(90)">27</text><text transform="translate(135.7 513)rotate(90)">28</text><text transform="translate(146.1 513)rotate(90)">29</text><text transform="translate(156.5 513)rotate(90)">30</text><text transform="translate(166.9 513)rotate(90)">31</text><text transform="translate(177.3 513)rotate(90)">32</text><text transform="translate(187.7 513)rotate(90)">33</text><text transform="translate(198.1 513)rotate(90)">34</text><text transform="translate(208.5 513)rotate(90)">35</text><text transform="translate(218.9 513)rotate(90)">36</text><text transform="translate(229.2 513)rotate(90)">37</text><text transform="translate(239.6 513)rotate(90)">38</text><text transform="translate(250 513)rotate(90)">39</text>
<text transform="translate(272.8 513)rotate(90)">32</text><text transform="translate(284 513)rotate(90)">33</text><text transform="translate(295.2 513)rotate(90)">34</text><text transform="translate(306.4 513)rotate(90)">35</text><text transform="translate(317.6 513)rotate(90)">36</text><text transform="translate(328.8 513)rotate(90)">37</text><text transform="translate(340 513)rotate(90)">38</text><text transform="translate(351.2 513)rotate(90)">39</text><text transform="translate(362.4 513)rotate(90)">40</text><text transform="translate(373.6 513)rotate(90)">41</text><text transform="translate(384.8 513)rotate(90)">42</text><text transform="translate(396 513)rotate(90)">43</text><text transform="translate(407.2 513)rotate(90)">44</text><text transform="translate(418.4 513)rotate(90)">45</text><text transform="translate(429.6 513)rotate(90)">46</text><text transform="translate(440.8 513)rotate(90)">47</text><text transform="translate(452 513)rotate(90)">48</text><text transform="translate(463.2 513)rotate(90)">49</text><text transform="translate(474.4 513)rotate(90)">50</text>
<text transform="translate(496.6 513)rotate(90)">2</text><text transform="translate(507 513)rotate(90)">3</text><text transform="translate(517.4 513)rotate(90)">4</text><text transform="translate(527.8 513)rotate(90)">5</text><text transform="translate(538.2 513)rotate(90)">6</text><text transform="translate(548.6 513)rotate(90)">7</text><text transform="translate(559 513)rotate(90)">8</text><text transform="translate(569.4 513)rotate(90)">9</text><text transform="translate(579.8 513)rotate(90)">10</text><text transform="translate(590.2 513)rotate(90)">11</text><text transform="translate(600.6 513)rotate(90)">12</text><text transform="translate(611 513)rotate(90)">13</text><text transform="translate(621.4 513)rotate(90)">14</text><text transform="translate(631.8 513)rotate(90)">15</text><text transform="translate(642.2 513)rotate(90)">16</text>
<text transform="translate(661.6 513)rotate(90)">31</text><text transform="translate(669.7 513)rotate(90)">32</text><text transform="translate(677.7 513)rotate(90)">33</text><text transform="translate(685.8 513)rotate(90)">34</text><text transform="translate(693.9 513)rotate(90)">35</text><text transform="translate(701.9 513)rotate(90)">36</text><text transform="translate(710 513)rotate(90)">37</text><text transform="translate(718.1 513)rotate(90)">38</text><text transform="translate(726.2 513)rotate(90)">39</text><text transform="translate(734.2 513)rotate(90)">40</text><text transform="translate(742.3 513)rotate(90)">41</text><text transform="translate(750.4 513)rotate(90)">42</text><text transform="translate(758.4 513)rotate(90)">43</text><text transform="translate(766.5 513)rotate(90)">44</text><text transform="translate(774.6 513)rotate(90)">45</text><text transform="translate(782.6 513)rotate(90)">46</text><text transform="translate(790.7 513)rotate(90)">47</text><text transform="translate(798.8 513)rotate(90)">48</text><text transform="translate(806.8 513)rotate(90)">49</text><text transform="translate(814.9 513)rotate(90)">50</text>
</g>
<g id="labels-b" class="cl">
<text transform="translate(63 664)rotate(90)">9</text><text transform="translate(73.8 664)rotate(90)">10</text><text transform="translate(84.7 664)rotate(90)">11</text><text transform="translate(95.5 664)rotate(90)">12</text><text transform="translate(106.3 664)rotate(90)">13</text><text transform="translate(117.2 664)rotate(90)">14</text><text transform="translate(128 664)rotate(90)">15</text><text transform="translate(138.8 664)rotate(90)">16</text><text transform="translate(149.6 664)rotate(90)">17</text><text transform="translate(160.5 664)rotate(90)">18</text><text transform="translate(171.3 664)rotate(90)">19</text><text transform="translate(182.1 664)rotate(90)">20</text><text transform="translate(193 664)rotate(90)">21</text><text transform="translate(203.8 664)rotate(90)">22</text><text transform="translate(214.6 664)rotate(90)">23</text><text transform="translate(225.5 664)rotate(90)">24</text><text transform="translate(236.3 664)rotate(90)">25</text><text transform="translate(247.1 664)rotate(90)">26</text><text transform="translate(258 664)rotate(90)">27</text><text transform="translate(268.8 664)rotate(90)">28</text><text transform="translate(279.6 664)rotate(90)">29</text><text transform="translate(290.4 664)rotate(90)">30</text><text transform="translate(301.3 664)rotate(90)">31</text><text transform="translate(312.1 664)rotate(90)">32</text><text transform="translate(322.9 664)rotate(90)">33</text>
<text transform="translate(353 664)rotate(90)">20</text><text transform="translate(364.9 664)rotate(90)">21</text><text transform="translate(376.9 664)rotate(90)">22</text><text transform="translate(388.8 664)rotate(90)">23</text><text transform="translate(400.8 664)rotate(90)">24</text><text transform="translate(412.7 664)rotate(90)">25</text><text transform="translate(424.6 664)rotate(90)">26</text><text transform="translate(436.6 664)rotate(90)">27</text><text transform="translate(448.5 664)rotate(90)">28</text><text transform="translate(460.5 664)rotate(90)">29</text><text transform="translate(472.4 664)rotate(90)">30</text><text transform="translate(484.3 664)rotate(90)">31</text><text transform="translate(496.3 664)rotate(90)">32</text><text transform="translate(508.2 664)rotate(90)">33</text><text transform="translate(520.2 664)rotate(90)">34</text><text transform="translate(532.1 664)rotate(90)">35</text><text transform="translate(544 664)rotate(90)">36</text>
<text transform="translate(576.3 664)rotate(90)">25</text><text transform="translate(591.8 664)rotate(90)">26</text><text transform="translate(607.3 664)rotate(90)">27</text><text transform="translate(622.8 664)rotate(90)">28</text><text transform="translate(638.3 664)rotate(90)">29</text><text transform="translate(653.9 664)rotate(90)">30</text><text transform="translate(669.4 664)rotate(90)">31</text><text transform="translate(684.9 664)rotate(90)">32</text><text transform="translate(700.4 664)rotate(90)">33</text><text transform="translate(715.9 664)rotate(90)">34</text><text transform="translate(731.4 664)rotate(90)">35</text><text transform="translate(746.9 664)rotate(90)">36</text><text transform="translate(762.4 664)rotate(90)">37</text><text transform="translate(777.9 664)rotate(90)">38</text><text transform="translate(793.4 664)rotate(90)">39</text><text transform="translate(809 664)rotate(90)">40</text>
</g>
</svg>
